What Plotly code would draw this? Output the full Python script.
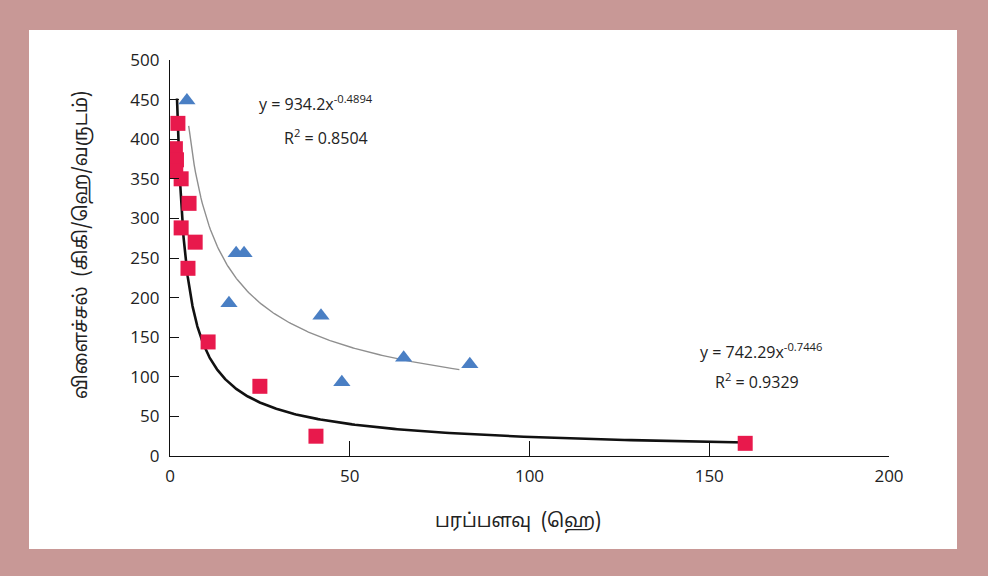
import numpy as np
import plotly.graph_objects as go

# Data
blue_x = [4.7, 18.4, 20.6, 16.4, 42.0, 47.8, 65.0, 83.4]
blue_y = [449, 256, 256, 193, 177, 93, 124, 116]

red_x = [2.2, 1.5, 1.8, 1.6, 3.1, 5.3, 3.1, 7.0, 5.0, 10.6, 25.0, 40.6, 160.0]
red_y = [420, 388, 374, 360, 350, 319, 288, 270, 237, 144, 88, 25, 16]

# Trendline equations shown on the chart
blue_a, blue_b = 934.2, -0.4894
red_a, red_b = 742.29, -0.7446
blue_range = [5.2, 80.5]
red_range = [1.95, 160.0]

xtick_vals = [0, 50, 100, 150, 200]
ytick_vals = [0, 50, 100, 150, 200, 250, 300, 350, 400, 450, 500]

x_title = "பரப்பளவு  (ஹெ)"
y_title = "விளைச்சல்  (கிகி/ஹெ/வருடம்)"

bx = np.linspace(blue_range[0], blue_range[1], 200)
by = blue_a * bx ** blue_b
rx = np.geomspace(red_range[0], red_range[1], 300)
ry = red_a * rx ** red_b

fig = go.Figure()
fig.add_trace(go.Scatter(x=bx, y=by, mode="lines",
                         line=dict(color="#8f8f8f", width=1.4),
                         hoverinfo="skip", showlegend=False))
fig.add_trace(go.Scatter(x=rx, y=ry, mode="lines",
                         line=dict(color="#111111", width=2.6),
                         hoverinfo="skip", showlegend=False))
fig.add_trace(go.Scatter(x=blue_x, y=blue_y, mode="markers",
                         marker=dict(symbol="triangle-up", size=15, color="#4a7fc4"),
                         showlegend=False))
fig.add_trace(go.Scatter(x=red_x, y=red_y, mode="markers",
                         marker=dict(symbol="square", size=15, color="#e8194c"),
                         showlegend=False))

W0, W1 = 170, 889
H0, H1 = 456, 60
def px(xp):
    return (xp - W0) / (W1 - W0)
def py(yp):
    return (H0 - yp) / (H0 - H1)

fig.add_shape(type="rect", xref="paper", yref="paper",
              x0=px(29), x1=px(957), y0=py(549), y1=py(30),
              fillcolor="white", line=dict(width=0), layer="below")

ann_font = dict(family="Open Sans, Liberation Sans, sans-serif", size=16, color="#222")
anns = [
    ("y = 934.2x<sup>-0.4894</sup>", 316, 103),
    ("R<sup>2</sup> = 0.8504", 326, 137),
    ("y = 742.29x<sup>-0.7446</sup>", 761, 351),
    ("R<sup>2</sup> = 0.9329", 757, 381),
]
for t, ax_, ay_ in anns:
    fig.add_annotation(text=t, xref="paper", yref="paper", x=px(ax_), y=py(ay_),
                       showarrow=False, font=ann_font, xanchor="center", yanchor="middle")

tamil_font = dict(family="Noto Sans Tamil, Noto Sans Tamil UI, Lohit Tamil, FreeSans, sans-serif",
                  size=19, color="#222")
fig.add_annotation(text=x_title, xref="paper", yref="paper", x=px(518), y=py(522),
                   showarrow=False, font=tamil_font,
                   xanchor="center", yanchor="middle")
fig.add_annotation(text=y_title, xref="paper", yref="paper", x=px(82), y=py(245),
                   showarrow=False, textangle=-90, font=tamil_font,
                   xanchor="center", yanchor="middle")

tick_font = dict(family="Open Sans, Liberation Sans, sans-serif", size=17, color="#222")
fig.update_xaxes(range=[0, 200], tickvals=xtick_vals, ticks="inside", ticklen=15,
                 tickwidth=1.3, tickcolor="#111", showline=True, linecolor="#111",
                 linewidth=1.3, showgrid=False, zeroline=False, tickfont=tick_font,
                 ticklabelstandoff=4)
fig.update_yaxes(range=[0, 500], tickvals=ytick_vals, ticks="inside", ticklen=9,
                 tickwidth=1.3, tickcolor="#111", showline=True, linecolor="#111",
                 linewidth=1.3, showgrid=False, zeroline=False, tickfont=tick_font,
                 ticklabelstandoff=6)
fig.update_layout(width=988, height=576,
                  margin=dict(l=W0, r=988 - W1, t=H1, b=576 - H0),
                  paper_bgcolor="#c89896", plot_bgcolor="white",
                  showlegend=False)

fig.write_html("out.html")
